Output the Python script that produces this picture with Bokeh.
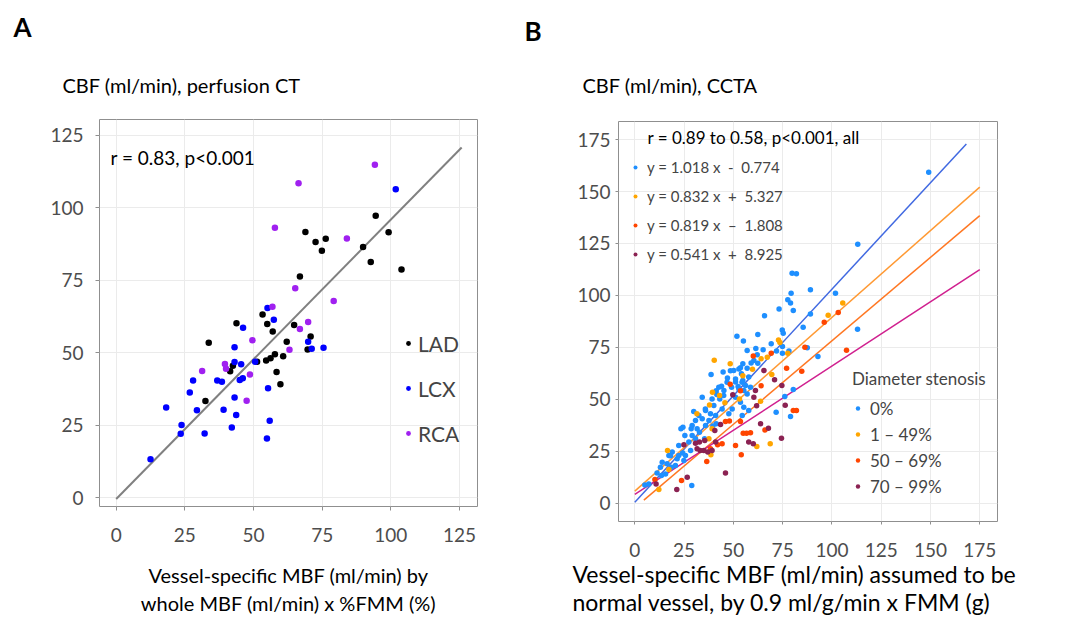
from bokeh.plotting import figure
from bokeh.layouts import row
from bokeh.models import Range1d, FixedTicker, Label, Legend, LegendItem, Title
from bokeh.embed import file_html
from bokeh.resources import INLINE

FONT = "Lato"

# ---------------- Panel A data ----------------
lad_x = [68.9, 72.6, 76.3, 74.9, 94.5, 99.2, 89.9, 92.7, 103.9, 66.9, 53.3, 43.8, 55.0, 57.0, 64.8,
         70.8, 62.1, 33.7, 69.7, 57.8, 60.8, 56.2, 54.6, 51.3, 42.5, 41.5, 58.4, 59.8, 32.5]
lad_y = [91.7, 88.2, 89.3, 85.2, 97.3, 91.6, 86.5, 81.3, 78.7, 76.3, 63.2, 60.2, 59.9, 57.3, 59.6,
         55.6, 53.8, 53.4, 51.1, 49.5, 48.8, 48.1, 47.3, 46.9, 45.5, 43.6, 43.3, 39.1, 33.3]
lcx_x = [101.8, 55.1, 57.4, 46.2, 43.1, 69.9, 71.2, 75.5, 43.1, 45.5, 50.6, 36.8, 38.5, 28.0, 45.0,
         46.1, 55.3, 26.8, 18.2, 29.4, 39.1, 43.1, 43.7, 23.8, 23.5, 32.2, 42.1, 55.9, 54.9, 12.5]
lcx_y = [106.4, 65.4, 61.4, 58.6, 51.9, 53.8, 51.4, 51.7, 46.8, 46.0, 46.9, 40.4, 40.0, 40.4, 40.6,
         41.2, 37.7, 36.3, 31.1, 30.1, 30.3, 34.5, 28.5, 25.0, 22.0, 22.1, 24.2, 26.5, 20.4, 13.2]
rca_x = [94.2, 66.4, 57.8, 84.0, 65.2, 79.2, 56.9, 69.9, 66.9, 49.6, 63.1, 39.6, 40.0, 31.3, 48.7, 47.5]
rca_y = [114.9, 108.5, 93.1, 89.4, 72.2, 67.8, 65.9, 60.6, 58.2, 54.3, 51.0, 46.1, 44.5, 43.7, 42.5, 33.4]
fitA_x = [0.0, 125.8]
fitA_y = [-0.5, 120.8]
ticksA = [0, 25, 50, 75, 100, 125]
vessels = ["LAD", "LCX", "RCA"]

# ---------------- Panel B data ----------------
s0_x = [34.2, 43.1, 51.1, 53.6, 55.3, 57.8, 49.4, 44.3, 40.1, 35.9, 29.9, 38.4, 41.0, 34.2, 37.6,
        41.3, 39.6, 35.9, 31.6, 28.6, 24.4, 23.4, 32.8, 29.1, 35.4, 30.8, 27.4, 22.3, 19.0, 17.3,
        21.5, 24.9, 25.7, 28.3, 13.0, 11.3, 13.5, 15.6, 20.6, 18.6, 16.4, 28.9, 5.1, 7.1, 47.7,
        54.5, 51.8, 55.1, 54.8, 53.6, 50.2, 44.8, 38.7, 47.0, 54.1, 51.1, 54.8, 56.2, 42.6, 45.2,
        41.6, 49.1, 52.4, 55.3, 57.8, 57.0, 79.3, 101.8, 77.6, 79.0, 73.2, 80.4, 89.1, 65.8, 85.4,
        74.8, 75.3, 113.0, 62.4, 69.2, 74.9, 87.5, 92.9, 65.1, 71.9, 74.9, 78.2, 62.1, 57.0, 60.4,
        62.4, 76.1, 80.4, 71.7, 79.0, 58.7, 149.1, 113.1, 79.8, 82.0, 89.1, 61.4, 57.0, 59.0, 24.3,
        48.5, 52.8, 51.1, 46.8, 44.0, 41.3, 54.4, 52.8, 45.1, 39.2, 35.8, 32.5, 29.1, 25.4, 22.3,
        18.1, 13.9, 30.8]
s0_y = [51.0, 50.2, 51.0, 48.6, 46.2, 44.6, 45.4, 45.4, 47.0, 44.6, 44.1, 43.0, 42.2, 40.6, 39.8,
        38.2, 37.1, 37.4, 35.8, 35.8, 36.6, 35.8, 34.2, 32.6, 31.0, 31.0, 29.4, 23.0, 24.6, 23.0,
        21.4, 20.6, 23.0, 25.4, 17.3, 14.5, 13.3, 14.1, 18.2, 17.3, 19.0, 8.5, 8.8, 9.3, 43.0,
        42.2, 80.4, 78.1, 67.1, 65.2, 63.9, 63.1, 61.9, 60.3, 62.3, 58.3, 59.0, 56.6, 55.8, 54.2,
        52.3, 55.8, 56.2, 54.2, 60.7, 52.6, 101.1, 101.1, 97.9, 96.3, 93.5, 92.7, 91.1, 90.2, 84.7,
        83.4, 81.8, 83.7, 81.2, 76.7, 75.4, 74.8, 70.6, 73.8, 73.2, 72.2, 73.2, 71.4, 73.5, 68.7,
        67.4, 51.4, 54.7, 43.8, 41.7, 55.8, 159.3, 124.6, 110.7, 110.4, 102.7, 74.4, 65.0, 67.5, 24.2,
        63.8, 64.6, 59.8, 58.2, 56.3, 54.1, 58.2, 55.0, 51.8, 50.2, 45.4, 42.2, 37.4, 32.6, 27.8,
        22.9, 19.7, 39.8]
s1_x = [40.3, 48.4, 54.8, 39.4, 43.0, 37.9, 31.5, 45.7, 53.1, 39.2, 37.6, 16.6, 38.6, 17.3, 12.2,
        105.5, 98.1, 72.9, 73.6, 77.6, 67.2, 64.1, 59.7, 69.5, 63.8, 68.7, 61.9]
s1_y = [68.8, 67.1, 61.3, 53.4, 51.8, 47.3, 43.0, 48.3, 50.2, 35.8, 31.0, 25.4, 23.3, 16.2, 6.6,
        96.3, 90.5, 78.6, 77.3, 72.2, 70.3, 69.5, 64.5, 62.0, 49.1, 28.6, 27.3]
s2_x = [48.4, 53.6, 46.0, 48.0, 53.6, 36.5, 42.0, 44.3, 51.1, 54.0, 23.7, 10.2, 58.7, 38.4, 103.2,
        96.1, 86.3, 107.4, 60.1, 69.2, 77.0, 84.7, 64.1, 80.4, 82.0, 66.0, 55.0, 56.7]
s2_y = [57.3, 54.1, 39.3, 39.6, 39.3, 20.1, 28.1, 28.6, 27.8, 23.3, 10.9, 11.4, 33.9, 26.2, 91.8,
        87.1, 75.1, 73.6, 70.9, 72.2, 65.0, 63.5, 56.5, 44.6, 44.6, 35.2, 33.7, 33.7]
s3_x = [49.7, 43.5, 24.9, 32.8, 30.8, 35.0, 37.0, 39.2, 33.2, 46.0, 26.6, 21.3, 10.8, 57.8, 31.6,
        41.0, 65.5, 70.9, 74.6, 61.2, 60.4, 76.3, 61.8, 63.8, 67.8, 74.4, 60.1, 35.5, 40.6]
s3_y = [52.2, 37.9, 28.1, 29.4, 28.9, 25.4, 24.6, 25.4, 25.4, 14.6, 12.5, 6.6, 9.3, 29.4, 26.2,
        29.4, 63.9, 59.4, 56.6, 54.2, 51.0, 47.2, 46.9, 38.2, 36.1, 31.3, 28.6, 30.2, 35.0]
fit_x0 = [0.0, 0.0, 4.6, 0.0]
fit_y0 = [0.5, 5.8, 1.5, 4.2]
fit_x1 = [168.2, 175.0, 175.0, 175.0]
fit_y1 = [172.9, 152.1, 138.4, 112.4]
groups = ["0%", "1 \u2013 49%", "50 \u2013 69%", "70 \u2013 99%"]
equations = ["y = 1.018 x  -  0.774", "y = 0.832 x  +  5.327",
             "y = 0.819 x  \u2013  1.808", "y = 0.541 x  +  8.925"]
ticksB = [0, 25, 50, 75, 100, 125, 150, 175]

GRID = "#ebebeb"
BORDER = "#8f8f8f"
TICKLBL = "#4d4d4d"


def make_fig(width, left, right, top, bottom, xr, yr, ticks, tick_out, ystand, xstand):
    p = figure(width=width, height=617, output_backend="svg", toolbar_location=None,
               x_range=Range1d(*xr), y_range=Range1d(*yr),
               min_border_left=left, min_border_right=right,
               min_border_top=top, min_border_bottom=bottom)
    p.frame_align = False
    p.outline_line_color = BORDER
    p.outline_line_width = 1
    p.background_fill_color = "white"
    p.border_fill_color = "white"
    for ax in (p.xaxis[0], p.yaxis[0]):
        ax.ticker = FixedTicker(ticks=ticks)
        ax.axis_line_color = None
        ax.major_tick_line_color = BORDER
        ax.major_tick_out = tick_out
        ax.major_tick_in = 0
        ax.minor_tick_line_color = None
        ax.major_label_text_font = FONT
        ax.major_label_text_font_size = "19px"
        ax.major_label_text_color = TICKLBL
    p.yaxis[0].major_label_standoff = ystand
    p.xaxis[0].major_label_standoff = xstand
    p.xaxis[0].axis_label_text_font = FONT
    p.xaxis[0].axis_label_text_font_style = "normal"
    p.xaxis[0].axis_label_text_color = "black"
    p.xgrid.ticker = FixedTicker(ticks=ticks)
    p.ygrid.ticker = FixedTicker(ticks=ticks)
    p.grid.grid_line_color = GRID
    p.grid.grid_line_width = 1
    return p


def lab(p, fl, fb, X, Y, text, size):
    p.add_layout(Label(x=X - fl, y=fb - Y, x_units="screen", y_units="screen", text=text,
                       text_font=FONT, text_font_size=size, text_color="black",
                       text_align="left", text_baseline="middle"))


def head(p, text, offset, size, standoff, bold=False, side="above", lh=1.2):
    p.add_layout(Title(text=text, align="left", offset=offset, standoff=standoff,
                       vertical_align="middle", text_font=FONT, text_font_size=size,
                       text_line_height=lh,
                       text_font_style="bold" if bold else "normal", text_color="black"),
                 side)


# ================= Panel A =================
pA = make_fig(520, 99, 43, 119, 109, (-6.08, 131.57), (-3.09, 130.49), ticksA, 4, 12, 17)
pA.line(fitA_x, fitA_y, line_color="#808080", line_width=2)
rA = []
for xs, ys, col in ((lad_x, lad_y, "black"), (lcx_x, lcx_y, "#0000ff"), (rca_x, rca_y, "#a020f0")):
    rA.append(pA.scatter(xs, ys, size=6.5, color=col, line_color=None))
legA = Legend(items=[LegendItem(label=v, renderers=[r]) for v, r in zip(vessels, rA)],
              location=(303, 60), padding=0, margin=0, spacing=19, glyph_width=12,
              glyph_height=26, label_height=26, label_standoff=4,
              label_text_font=FONT, label_text_font_size="21px",
              border_line_color=None, background_fill_alpha=0)
pA.add_layout(legA)
lab(pA, 99, 508, 110, 159, "r = 0.83, p<0.001", "19px")
head(pA, "CBF (ml/min), perfusion CT", -37, "20px", 44)
head(pA, "A", -86, "26px", 11, bold=True)
pA.xaxis[0].axis_label = "Vessel-specific MBF (ml/min) by\nwhole MBF (ml/min) x %FMM (%)"
pA.xaxis[0].axis_label_standoff = 18
pA.xaxis[0].axis_label_text_font_size = "20px"
pA.xaxis[0].axis_label_text_line_height = 1.17

# ================= Panel B =================
pB = make_fig(547, 98, 70, 121, 96, (-8.27, 184.0), (-8.8, 183.7), ticksB, 3, 5, 18)
dot_cols = ["#1e8fff", "#ffa500", "#ff4500", "#8b2252"]
line_cols = ["#4169e1", "#ff9933", "#ff7722", "#d0208f"]
for i in range(4):
    pB.segment(x0=[fit_x0[i]], y0=[fit_y0[i]], x1=[fit_x1[i]], y1=[fit_y1[i]],
               line_color=line_cols[i], line_width=1.5)
rB = []
for (xs, ys), col in zip(((s0_x, s0_y), (s1_x, s1_y), (s2_x, s2_y), (s3_x, s3_y)), dot_cols):
    rB.append(pB.scatter(xs, ys, size=5.5, color=col, line_color=None))

legEq = Legend(items=[LegendItem(label=e, renderers=[r]) for e, r in zip(equations, rB)],
               location=(12, 256), padding=0, margin=0, spacing=7, glyph_width=10,
               glyph_height=22, label_height=22, label_standoff=7,
               label_text_font=FONT, label_text_font_size="15px",
               border_line_color=None, background_fill_alpha=0)
pB.add_layout(legEq)
legDS = Legend(items=[LegendItem(label=g, renderers=[r]) for g, r in zip(groups, rB)],
               location=(234, 24), padding=0, margin=0, spacing=4, glyph_width=11,
               glyph_height=22, label_height=22, label_standoff=7,
               title="Diameter stenosis", title_text_font=FONT, title_text_font_size="17px",
               title_text_font_style="normal", title_standoff=8,
               label_text_font=FONT, label_text_font_size="17px",
               border_line_color=None, background_fill_alpha=0)
pB.add_layout(legDS)
lab(pB, 618, 521, 647, 137, "r = 0.89 to 0.58, p<0.001, all", "17px")
head(pB, "CBF (ml/min), CCTA", -36, "20px", 48)
head(pB, "B", -94, "26px", 0, bold=True)
head(pB, "Vessel-specific MBF (ml/min) assumed to be\nnormal vessel, by 0.9 ml/g/min x FMM (g)",
     -46, "23px", 0, side="below", lh=0.98)

layout = row(pA, pB)
open("out.html", "w").write(file_html(layout, INLINE))
